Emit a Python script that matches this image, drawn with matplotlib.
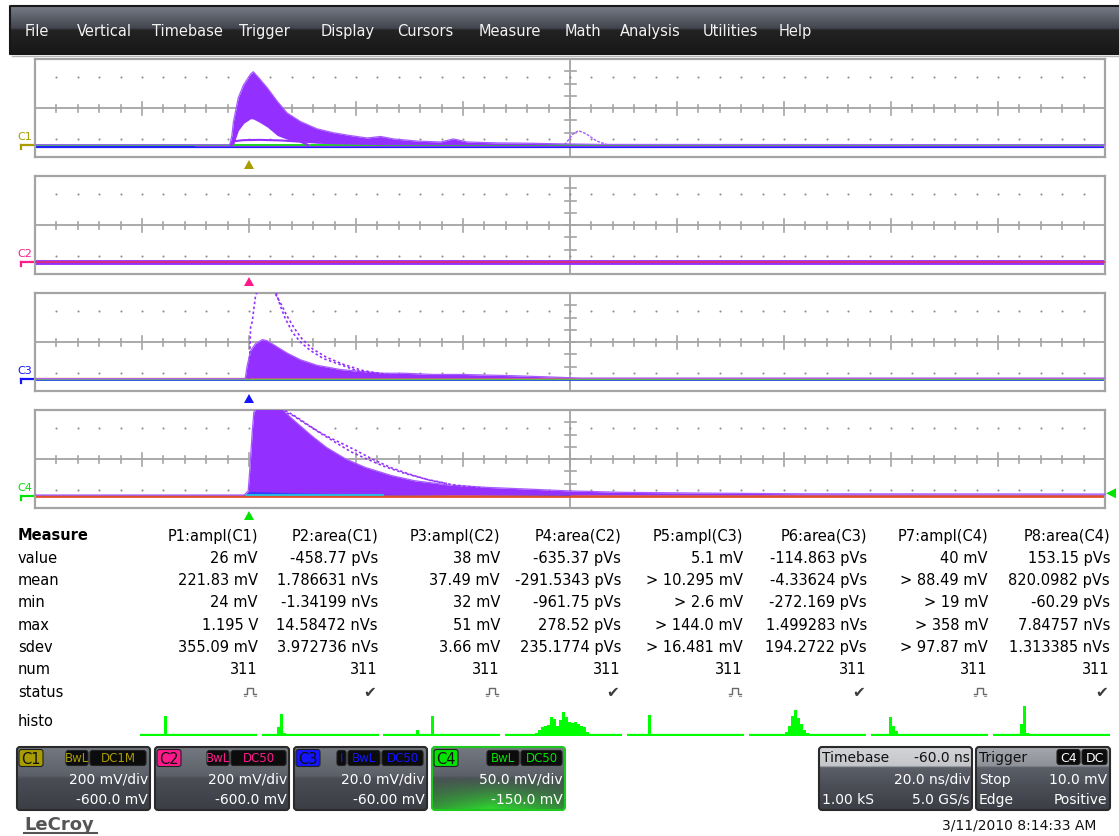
import numpy as np
import matplotlib
matplotlib.use("Agg")
import matplotlib.pyplot as plt
from matplotlib.colors import to_rgb
from matplotlib.patches import FancyBboxPatch, Polygon

plt.rcParams['font.family'] = ['DejaVu Sans']

W, H = 1119, 837

# ---------------- data ----------------
menu_items = ['File', 'Vertical', 'Timebase', 'Trigger', 'Display', 'Cursors',
              'Measure', 'Math', 'Analysis', 'Utilities', 'Help']

channels = ['C1', 'C2', 'C3', 'C4']
mv_per_div = [200.0, 200.0, 20.0, 50.0]
offset_mv = [-600.0, -600.0, -60.0, -150.0]
ns_per_div = 20.0
delay_ns = -60.0
trig_level_mv = 10.0

# persistence envelopes (time in ns, amplitude in mV)
c1_t = [-40, -3.6, -3.2, -2.9, -2.0, -1.0, 0.3, 0.8, 1.8, 3.4, 5.3, 7.1, 9.6, 12.7,
        15.8, 18.9, 22.1, 24.6, 27.0, 31.4, 35.8, 38.2, 40.8, 46.4, 52.0, 58.0, 66.0, 160]
c1_upper = [0, 0, 150, 380, 770, 980, 1155, 1192, 1095, 930, 707, 520, 380, 260,
            195, 150, 110, 135, 95, 60, 45, 95, 45, 30, 25, 15, 5, 0]
c1_lower = [0, 0, 0, 0, 230, 350, 425, 420, 375, 290, 150, 90, 45, 25,
            15, 10, 5, 0, 0, 0, 0, 0, 0, 0, 0, 0, 0, 0]
c1_small_t = [-3.4, -2.6, -1.0, 2.0, 6.0, 9.6, 11.0]
c1_small_v = [0, 60, 75, 80, 70, 50, 0]
c1_echo_t = [59.0, 60.5, 61.6, 63.0, 65.0, 67.0]
c1_echo_v = [0, 170, 230, 180, 60, 0]

c3_t = [-40, -0.7, -0.4, 0.3, 1.2, 2.5, 3.4, 4.9, 7.1, 9.6, 12.7, 17.1, 20.8,
        25.1, 28.9, 34.5, 40.0, 44.5, 49.2, 56.0, 62.0, 160]
c3_upper = [0, 0, 19, 46, 57, 64, 62, 54, 42, 31, 22, 15, 12,
            9, 9, 7, 7, 6, 5, 3, 1, 1]
c3_trace_a_t = [0.0, 0.3, 0.6, 1.2, 1.6, 4.9, 5.9, 6.8, 8.1, 9.6, 11.5, 13.9, 17.1, 20.2, 23.3, 27.0]
c3_trace_a_v = [0, 84, 93, 134, 145, 145, 118, 98, 76, 60, 46, 33, 23, 13, 9, 5]
c3_trace_b_t = [4.5, 6.0, 7.0, 8.5, 10.0, 12.0, 14.5, 17.5, 21.0, 24.0, 28.0]
c3_trace_b_v = [145, 122, 104, 82, 64, 48, 35, 24, 14, 9, 5]

c4_t = [-40, -0.9, -0.15, 0.2, 0.6, 0.9, 1.6, 5.9, 6.7, 8.8, 11.7, 14.5, 18.1,
        21.7, 26.7, 31.0, 37.4, 44.6, 52.4, 59.6, 69.6, 83.9, 103.0, 160]
c4_upper = [3, 3, 20, 122, 259, 341, 360, 360, 341, 300, 245, 197, 150,
            116, 82, 61, 44, 34, 27, 20, 14, 11, 8, 7]
c4_core_t = [-0.9, -0.2, 0.5, 3.0, 8.0, 15.0, 25.0, 40.0, 60.0]
c4_core_v = [0, 14, 18, 16, 12, 9, 6, 4, 2]
c4_trace_a_t = [4.0, 7.0, 9.0, 11.0, 13.0, 15.0, 17.5, 20.0, 23.0, 26.5, 30.0, 34.0, 38.0, 44.0]
c4_trace_a_v = [360, 345, 320, 290, 262, 238, 212, 185, 150, 115, 88, 62, 45, 30]
c4_trace_b_t = [4.5, 8.0, 10.5, 13.0, 16.0, 19.0, 22.0, 25.5, 29.0, 33.0, 37.0]
c4_trace_b_v = [360, 330, 295, 260, 220, 180, 150, 118, 92, 68, 50]

# measurement table
params = ['P1:ampl(C1)', 'P2:area(C1)', 'P3:ampl(C2)', 'P4:area(C2)',
          'P5:ampl(C3)', 'P6:area(C3)', 'P7:ampl(C4)', 'P8:area(C4)']
row_names = ['value', 'mean', 'min', 'max', 'sdev', 'num']
val_value = ['26 mV', '-458.77 pVs', '38 mV', '-635.37 pVs', '5.1 mV', '-114.863 pVs', '40 mV', '153.15 pVs']
val_mean = ['221.83 mV', '1.786631 nVs', '37.49 mV', '-291.5343 pVs', '> 10.295 mV', '-4.33624 pVs', '> 88.49 mV', '820.0982 pVs']
val_min = ['24 mV', '-1.34199 nVs', '32 mV', '-961.75 pVs', '> 2.6 mV', '-272.169 pVs', '> 19 mV', '-60.29 pVs']
val_max = ['1.195 V', '14.58472 nVs', '51 mV', '278.52 pVs', '> 144.0 mV', '1.499283 nVs', '> 358 mV', '7.84757 nVs']
val_sdev = ['355.09 mV', '3.972736 nVs', '3.66 mV', '235.1774 pVs', '> 16.481 mV', '194.2722 pVs', '> 97.87 mV', '1.313385 nVs']
val_num = ['311', '311', '311', '311', '311', '311', '311', '311']
status = ['pulse', 'ok', 'pulse', 'ok', 'pulse', 'ok', 'pulse', 'ok']

# histogram bins (39 bins per parameter)
histo_p1 = [0, 0, 0, 0, 0, 0, 0, 0, 20, 1, 0, 0, 0, 0, 0, 0, 1, 1, 0, 1, 1, 1, 1, 1, 1, 1, 1, 1, 1, 1, 1, 1, 0, 0, 0, 0, 0, 0, 0]
histo_p2 = [0, 0, 0, 0, 1, 9, 22, 3, 1, 0, 0, 0, 0, 1, 1, 0, 0, 1, 1, 1, 1, 1, 1, 1, 1, 1, 1, 1, 1, 1, 0, 1, 1, 1, 0, 0, 0, 0, 0]
histo_p3 = [0, 0, 0, 0, 0, 0, 0, 0, 0, 0, 0, 6, 0, 0, 0, 0, 20, 0, 0, 0, 0, 0, 1, 0, 0, 0, 1, 0, 0, 0, 0, 0, 0, 0, 0, 0, 0, 0, 0]
histo_p4 = [0, 0, 0, 0, 0, 1, 0, 0, 0, 2, 3, 6, 9, 10, 11, 19, 17, 10, 16, 24, 19, 14, 13, 14, 12, 10, 9, 4, 2, 2, 1, 0, 0, 0, 0, 0, 0, 0, 0]
histo_p5 = [0, 0, 0, 0, 0, 0, 0, 21, 1, 0, 0, 0, 0, 0, 0, 0, 0, 0, 0, 0, 0, 1, 1, 0, 0, 0, 1, 0, 1, 0, 0, 0, 0, 0, 0, 0, 0, 0, 0]
histo_p6 = [0, 0, 0, 0, 0, 0, 0, 0, 0, 0, 0, 0, 4, 10, 20, 26, 18, 12, 6, 3, 2, 1, 0, 2, 0, 0, 0, 0, 0, 0, 0, 0, 0, 0, 0, 0, 0, 0, 0]
histo_p7 = [0, 0, 0, 0, 0, 0, 19, 10, 5, 2, 1, 1, 0, 0, 0, 0, 0, 0, 0, 0, 0, 0, 0, 0, 0, 1, 0, 0, 0, 0, 0, 0, 1, 0, 0, 0, 0, 0, 0]
histo_p8 = [0, 0, 0, 0, 0, 0, 0, 0, 0, 12, 30, 3, 0, 0, 0, 0, 0, 0, 0, 0, 0, 0, 0, 0, 0, 0, 0, 0, 0, 0, 0, 0, 0, 0, 0, 0, 0, 0, 1]

box_vdiv = ['200 mV/div', '200 mV/div', '20.0 mV/div', '50.0 mV/div']
box_offset = ['-600.0 mV', '-600.0 mV', '-60.00 mV', '-150.0 mV']
box_tags = [['BwL', 'DC1M'], ['BwL', 'DC50'], ['I', 'BwL', 'DC50'], ['BwL', 'DC50']]
timebase_text = ['Timebase', '-60.0 ns', '20.0 ns/div', '1.00 kS', '5.0 GS/s']
trigger_text = ['Trigger', 'Stop', '10.0 mV', 'Edge', 'Positive']
timestamp = '3/11/2010 8:14:33 AM'

# ---------------- layout / style ----------------
ch_colors = ['#a89c00', '#ff1a8c', '#1414ff', '#00e400']
persist = '#9430ff'
persist_edge = '#a65cff'
grid_c = '#a4a4a4'
PL, PR = 35, 1105
panel_tops = [60, 177, 294, 411]
PH = 98
menu_x = [25, 77, 152, 239, 321, 397, 479, 565, 620, 703, 779]
col_right = [258, 378, 500, 621, 743, 867, 988, 1110]
histo_left = [140, 262, 383, 505, 627, 749, 871, 993]
box_x = [(17, 150), (155, 289), (294, 427), (432, 565)]
tag_x = [[(66, 88), (90, 146)], [(207, 229), (231, 286)],
         [(337, 346), (348, 380), (382, 423)], [(487, 519), (521, 562)]]
BY0, BY1 = 748, 811

fig = plt.figure(figsize=(W / 100, H / 100), dpi=100)
bg = fig.add_axes([0, 0, 1, 1])
bg.axis('off')


def gradient(stops, n=80):
    f = np.linspace(0, 1, n)
    pos = [s[0] for s in stops]
    cols = np.array([to_rgb(s[1]) for s in stops])
    return np.stack([np.interp(f, pos, cols[:, k]) for k in range(3)], axis=-1)


def grad_box(x0, y0, x1, y1, stops, edge='#2a2a2a', glow=False, rs=3):
    g = gradient(stops)[:, None, :]
    img = np.repeat(g, 60, axis=1)
    if glow:
        fy = np.linspace(0, 1, img.shape[0])[:, None]
        fx = np.linspace(0, 1, img.shape[1])[None, :]
        k = np.clip((fy - 0.45) / 0.55, 0, 1) ** 1.2 * np.clip(1 - 0.9 * np.abs(fx - 0.45), 0, 1)
        img = img * (1 - k[..., None]) + np.array(to_rgb('#2fdc2f')) * k[..., None]
    im = bg.imshow(img, extent=(x0, x1, y1, y0), origin='upper', aspect='auto',
                   interpolation='bilinear', zorder=2)
    p = FancyBboxPatch((x0, y0), x1 - x0, y1 - y0, boxstyle=f'round,pad=0,rounding_size={rs}',
                       fc='none', ec=edge, lw=1.5, zorder=3)
    bg.add_patch(p)
    im.set_clip_path(p)


def badge(x0, x1, yc, text, fc, tc, fs=8.5, h=15):
    bg.add_patch(FancyBboxPatch((x0, yc - h / 2), x1 - x0, h, boxstyle='round,pad=0,rounding_size=2.5',
                                fc=fc, ec='#202020', lw=0.8, zorder=4))
    bg.text((x0 + x1) / 2, yc, text, ha='center', va='center', color=tc, fontsize=fs, zorder=5)


# menu bar
grad_box(10, 7, W + 5, 55, [(0, '#777c88'), (0.46, '#42454d'), (0.5, '#232324'), (1, '#171717')],
         edge='#171717', rs=0.1)
for name, x in zip(menu_items, menu_x):
    bg.text(x, 31.5, name, color='#f2f2f2', fontsize=10.5, va='center', ha='left', zorder=5)
bg.plot([12, W], [57, 57], color='#b4b4b4', lw=1)

# waveform panels
xlim = (-delay_ns - 5 * ns_per_div, -delay_ns + 5 * ns_per_div)
panels = []
for i in range(4):
    top = panel_tops[i]
    ax = fig.add_axes([PL / W, 1 - (top + PH) / H, (PR - PL) / W, PH / H])
    yc = -offset_mv[i]
    ylim = (yc - 4 * mv_per_div[i], yc + 4 * mv_per_div[i])
    ax.set_xlim(*xlim)
    ax.set_ylim(*ylim)
    ax.set_xticks([])
    ax.set_yticks([])
    for s in ax.spines.values():
        s.set_color(grid_c)
        s.set_linewidth(1.6)
    x0, x1 = xlim
    y0, y1 = ylim
    xc = (x0 + x1) / 2
    dx = (x1 - x0) / 10
    dy = (y1 - y0) / 8
    px_x = (x1 - x0) / (PR - PL)
    px_y = (y1 - y0) / PH
    ax.axhline(yc, color=grid_c, lw=1.3, zorder=1)
    ax.axvline(xc, color=grid_c, lw=1.3, zorder=1)
    for k in range(1, 50):
        x = x0 + k * dx / 5
        hh = (6.5 if k % 5 == 0 else 3.5) * px_y
        ax.plot([x, x], [yc - hh, yc + hh], color=grid_c, lw=1.2, zorder=1)
    for k in range(1, 8):
        y = y0 + k * dy
        ax.plot([xc - 5.5 * px_x, xc + 5.5 * px_x], [y, y], color=grid_c, lw=1.2, zorder=1)
    xs = x0 + np.arange(1, 50) * dx / 5
    for yy in (yc - 2.55 * dy, yc + 2.55 * dy):
        ax.scatter(xs, np.full_like(xs, yy), s=2.2, color='#8c8c8c', linewidths=0, zorder=1)
    panels.append((ax, px_y))

# C1
ax, py = panels[0]
ax.plot(xlim, [-2.5 * py, -2.5 * py], color='#2020ff', lw=1.6, zorder=2)
ax.plot([-10, 160], [-1 * py, -1 * py], color=persist, lw=1.2, zorder=2)
ax.plot(xlim, [0, 0], color='#20d020', lw=1.4, zorder=2)
ax.fill_between(c1_t, c1_lower, c1_upper, color=persist, lw=0, zorder=3)
ax.plot(c1_t, c1_upper, color=persist_edge, lw=0.9, zorder=3)
ax.plot(c1_small_t, c1_small_v, color=persist, lw=1.5, zorder=3)
ax.plot(c1_echo_t, c1_echo_v, color=persist_edge, lw=1.0, ls=(0, (2, 1)), zorder=3)

# C2
ax, py = panels[1]
ax.plot(xlim, [0, 0], color=persist, lw=3.5, zorder=2)
ax.plot(xlim, [0, 0], color='#e0306a', lw=1.2, zorder=3)

# C3
ax, py = panels[2]
ax.plot(xlim, [-1.5 * py, -1.5 * py], color='#1a30ff', lw=1.3, zorder=2)
ax.plot(xlim, [-0.5 * py, -0.5 * py], color='#3cc850', lw=1.0, zorder=2)
ax.plot(xlim, [0.3 * py, 0.3 * py], color='#e0803a', lw=1.0, zorder=2)
ax.fill_between(c3_t, 0.8 * py, np.maximum(c3_upper, 0.8 * py), color=persist, lw=0, zorder=3)
ax.plot(c3_t, c3_upper, color=persist_edge, lw=0.9, zorder=3)
ax.plot(c3_trace_a_t, c3_trace_a_v, color=persist, lw=1.2, ls=(0, (1.5, 1.5)), zorder=3)
ax.plot(c3_trace_b_t, c3_trace_b_v, color=persist, lw=1.2, ls=(0, (1.5, 1.5)), zorder=3)

# C4
ax, py = panels[3]
ax.plot(xlim, [0, 0], color='#e0502c', lw=2.0, zorder=2)
ax.fill_between(c4_t, 1.0 * py, c4_upper, color=persist, lw=0, zorder=3)
ax.plot(c4_t, c4_upper, color=persist_edge, lw=0.9, zorder=3)
ax.fill_between(c4_core_t, 1.0 * py, c4_core_v, color='#3a3aff', lw=0, zorder=3)
ax.plot([-0.6, 25], [1.2 * py, 1.2 * py], color='#20d0e0', lw=1.2, zorder=3)
ax.plot(c4_trace_a_t, c4_trace_a_v, color=persist, lw=1.2, ls=(0, (1.5, 1.5)), zorder=3)
ax.plot(c4_trace_b_t, c4_trace_b_v, color=persist, lw=1.2, ls=(0, (1.5, 1.5)), zorder=3)

# channel labels, ground markers and trigger markers
x_trig = PL + (0 - xlim[0]) / (xlim[1] - xlim[0]) * (PR - PL)
for i in range(4):
    top = panel_tops[i]
    base = top + PH - PH / 8
    c = ch_colors[i]
    bg.text(17, base - 9, channels[i], color=c, fontsize=8, ha='left', va='center')
    bg.plot([21, 34], [base, base], color=c, lw=1.6)
    bg.plot([21, 21], [base, base + 4], color=c, lw=1.6)
    b = top + PH
    bg.add_patch(Polygon([(x_trig - 5, b + 12), (x_trig + 5, b + 12), (x_trig, b + 3)],
                         closed=True, fc=c, ec='none'))
yl = panel_tops[3] + PH * (1 - (trig_level_mv - (-offset_mv[3] - 4 * mv_per_div[3])) / (8 * mv_per_div[3]))
bg.add_patch(Polygon([(PR + 1, yl), (PR + 11, yl - 5), (PR + 11, yl + 5)], closed=True,
                     fc=ch_colors[3], ec='none'))

# measurement table
row0, dr = 536, 22.3
bg.text(18, row0, 'Measure', fontsize=10.5, fontweight='bold', va='center', ha='left')
for j, p in enumerate(params):
    bg.text(col_right[j], row0, p, fontsize=10.5, va='center', ha='right')
rows = [val_value, val_mean, val_min, val_max, val_sdev, val_num]
for r, (name, vals) in enumerate(zip(row_names, rows)):
    y = row0 + (r + 1) * dr
    bg.text(18, y, name, fontsize=10.5, va='center', ha='left')
    for j, v in enumerate(vals):
        bg.text(col_right[j], y, v, fontsize=10.5, va='center', ha='right')
ys = row0 + 7 * dr
bg.text(18, ys, 'status', fontsize=10.5, va='center', ha='left')
for j, st in enumerate(status):
    cx = col_right[j] - 8
    if st == 'ok':
        bg.text(cx, ys, '\u2714', fontsize=11, color='#3c3c3c', va='center', ha='center')
    else:
        bg.plot(cx + np.array([-6, -3, -3, 3, 3, 6]), ys + np.array([3, 3, -3, -3, 3, 3]),
                color='#6a6a6a', lw=1)
        bg.plot([cx - 6, cx - 4], [ys + 5, ys + 5], color='#9a9a9a', lw=0.8)
        bg.plot([cx + 4, cx + 6], [ys + 5, ys + 5], color='#9a9a9a', lw=0.8)
bg.text(18, 722, 'histo', fontsize=10.5, va='center', ha='left')

histos = [histo_p1, histo_p2, histo_p3, histo_p4, histo_p5, histo_p6, histo_p7, histo_p8]
for hl, hv in zip(histo_left, histos):
    hax = fig.add_axes([hl / W, 1 - 737 / H, 117 / W, 36 / H])
    hax.bar(np.arange(len(hv)) + 0.5, hv, width=0.8, color='#00ff00', lw=0)
    hax.plot([0, len(hv)], [0.4, 0.4], color='#00ff00', lw=1.6)
    hax.set_xlim(0, len(hv))
    hax.set_ylim(-0.5, 35.5)
    hax.axis('off')

# channel descriptor boxes
box_stops = [(0, '#747880'), (0.45, '#5c6068'), (0.5, '#4a4d55'), (1, '#3b3e45')]
for i in range(4):
    x0, x1 = box_x[i]
    grad_box(x0, BY0, x1, BY1, box_stops,
             edge='#1ec81e' if i == 3 else '#2a2a2a', glow=(i == 3))
    badge(x0 + 2, x0 + 26, 759, channels[i], ch_colors[i], '#101010', fs=10.5, h=17)
    for (a, b), tg in zip(tag_x[i], box_tags[i]):
        badge(a, b, 759, tg, '#0c0c0c', ch_colors[i], fs=8.5)
    bg.text(x1 - 2, 780, box_vdiv[i], color='white', fontsize=10, ha='right', va='center', zorder=6)
    bg.text(x1 - 2, 800, box_offset[i], color='white', fontsize=10, ha='right', va='center', zorder=6)

hdr_stops = [(0, '#d2d4d8'), (0.3, '#c4c6ca'), (0.32, '#5c6068'), (0.6, '#4c4f57'), (1, '#3b3e45')]
grad_box(819, BY0, 972, BY1, hdr_stops)
bg.text(822, 758, timebase_text[0], fontsize=10, ha='left', va='center', color='#111111', zorder=6)
bg.text(970, 758, timebase_text[1], fontsize=10, ha='right', va='center', color='#111111', zorder=6)
bg.text(970, 780, timebase_text[2], fontsize=10, ha='right', va='center', color='white', zorder=6)
bg.text(822, 800, timebase_text[3], fontsize=10, ha='left', va='center', color='white', zorder=6)
bg.text(970, 800, timebase_text[4], fontsize=10, ha='right', va='center', color='white', zorder=6)

trg_stops = [(0, '#a4a7ad'), (0.3, '#8e9197'), (0.32, '#5c6068'), (0.6, '#4c4f57'), (1, '#3b3e45')]
grad_box(976, BY0, 1110, BY1, trg_stops)
bg.text(979, 758, trigger_text[0], fontsize=10, ha='left', va='center', color='#111111', zorder=6)
badge(1057, 1080, 758, 'C4', '#0c0c0c', 'white', fs=9)
badge(1082, 1107, 758, 'DC', '#0c0c0c', 'white', fs=9)
bg.text(979, 780, trigger_text[1], fontsize=10, ha='left', va='center', color='white', zorder=6)
bg.text(1107, 780, trigger_text[2], fontsize=10, ha='right', va='center', color='white', zorder=6)
bg.text(979, 800, trigger_text[3], fontsize=10, ha='left', va='center', color='white', zorder=6)
bg.text(1107, 800, trigger_text[4], fontsize=10, ha='right', va='center', color='white', zorder=6)

# footer
bg.text(24, 825, 'LeCroy', fontsize=13, fontweight='bold', color='#555555', ha='left', va='center')
bg.plot([24, 97], [834, 834], color='#555555', lw=1.5)
bg.text(1096, 826, timestamp, fontsize=10, color='#111111', ha='right', va='center')

bg.set_xlim(0, W)
bg.set_ylim(H, 0)
bg.set_aspect('auto')

fig.savefig('out.png', dpi=100)
